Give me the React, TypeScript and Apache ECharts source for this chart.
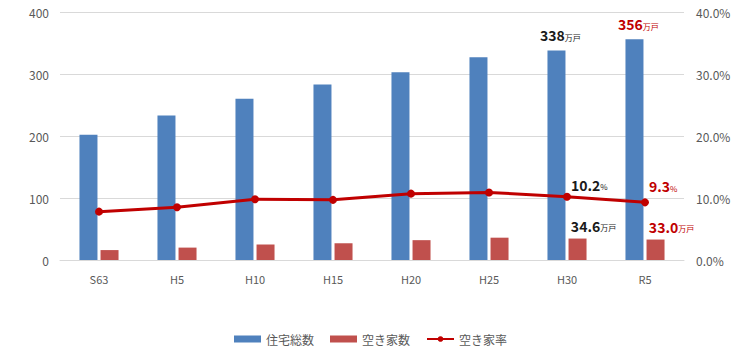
import React, { useEffect, useRef } from "react";
import * as echarts from "echarts";

const categories = ["S63", "H5", "H10", "H15", "H20", "H25", "H30", "R5"];
const totalHousing = [202, 233, 260, 283, 303, 327, 338, 356];
const vacantHouses = [16, 20, 25, 27, 32, 36, 34.6, 33.0];
const vacancyRate = [7.8, 8.5, 9.8, 9.7, 10.7, 10.9, 10.2, 9.3];
const leftTicks = [0, 100, 200, 300, 400];
const rightTicks = [0, 10, 20, 30, 40];

const FONT = "'Noto Sans CJK JP', 'Noto Sans', sans-serif";
const BLACK = "#1a1a1a";
const RED = "#C00000";

export default function App() {
  const ref = useRef<HTMLDivElement>(null);
  useEffect(() => {
    document.body.style.margin = "0";
    if (!ref.current) return;
    const chart = echarts.init(ref.current, undefined, { renderer: "svg" });

    const rich = (color: string) => ({
      n: { fontSize: 14, fontWeight: "bold", color, fontFamily: FONT },
      u: { fontSize: 8, color, fontFamily: FONT, padding: [4, 0, 0, 0] },
    });

    const lastTwo = (i: number) => i >= categories.length - 2;
    const isLast = (i: number) => i === categories.length - 1;
    const colorFor = (i: number) => (isLast(i) ? RED : BLACK);

    chart.setOption({
      animation: false,
      textStyle: { fontFamily: FONT },
      grid: { left: 60, right: 57, top: 12, bottom: 102, containLabel: false },
      legend: {
        bottom: 12,
        left: "center",
        itemWidth: 27,
        itemHeight: 7,
        itemGap: 16,
        textStyle: { fontSize: 12, color: "#595959", fontFamily: FONT },
        data: [
          { name: "住宅総数", icon: "rect" },
          { name: "空き家数", icon: "rect" },
          { name: "空き家率" },
        ],
      },
      xAxis: {
        type: "category",
        data: categories,
        axisLine: { show: true, lineStyle: { color: "#d9d9d9" } },
        axisTick: { show: false },
        axisLabel: { color: "#595959", fontSize: 11, margin: 13 },
      },
      yAxis: [
        {
          type: "value",
          min: leftTicks[0],
          max: leftTicks[leftTicks.length - 1],
          interval: 100,
          axisLabel: { color: "#595959", fontSize: 12, margin: 11 },
          splitLine: { lineStyle: { color: "#d9d9d9" } },
          axisLine: { show: false },
          axisTick: { show: false },
        },
        {
          type: "value",
          min: rightTicks[0],
          max: rightTicks[rightTicks.length - 1],
          interval: 10,
          axisLabel: {
            color: "#595959",
            fontSize: 12,
            margin: 12,
            formatter: (v: number) => v.toFixed(1) + "%",
          },
          splitLine: { show: false },
          axisLine: { show: false },
          axisTick: { show: false },
        },
      ],
      series: [
        {
          name: "住宅総数",
          type: "bar",
          barWidth: 18,
          barGap: "17%",
          itemStyle: { color: "#4F81BD" },
          data: totalHousing.map((v, i) =>
            lastTwo(i)
              ? {
                  value: v,
                  label: {
                    show: true,
                    position: "top",
                    offset: [4, 0],
                    distance: 8,
                    formatter: `{n|${v}}{u|万戸}`,
                    rich: rich(colorFor(i)),
                  },
                }
              : v
          ),
        },
        {
          name: "空き家数",
          type: "bar",
          barWidth: 18,
          barGap: "17%",
          itemStyle: { color: "#C0504D" },
          data: vacantHouses.map((v, i) =>
            lastTwo(i)
              ? {
                  value: v,
                  label: {
                    show: true,
                    position: "top",
                    offset: [16, 0],
                    distance: 6,
                    formatter: `{n|${v.toFixed(1)}}{u|万戸}`,
                    rich: rich(colorFor(i)),
                  },
                }
              : v
          ),
        },
        {
          name: "空き家率",
          type: "line",
          yAxisIndex: 1,
          symbol: "circle",
          symbolSize: 8,
          lineStyle: { color: RED, width: 3 },
          itemStyle: { color: RED },
          data: vacancyRate.map((v, i) =>
            lastTwo(i)
              ? {
                  value: v,
                  label: {
                    show: true,
                    position: "right",
                    distance: 0,
                    offset: [0, isLast(i) ? -16 : -12],
                    formatter: `{n|${v.toFixed(1)}}{u|%}`,
                    rich: rich(colorFor(i)),
                  },
                }
              : v
          ),
        },
      ],
    });
    return () => chart.dispose();
  }, []);
  return <div ref={ref} style={{ width: 741, height: 362 }} />;
}
